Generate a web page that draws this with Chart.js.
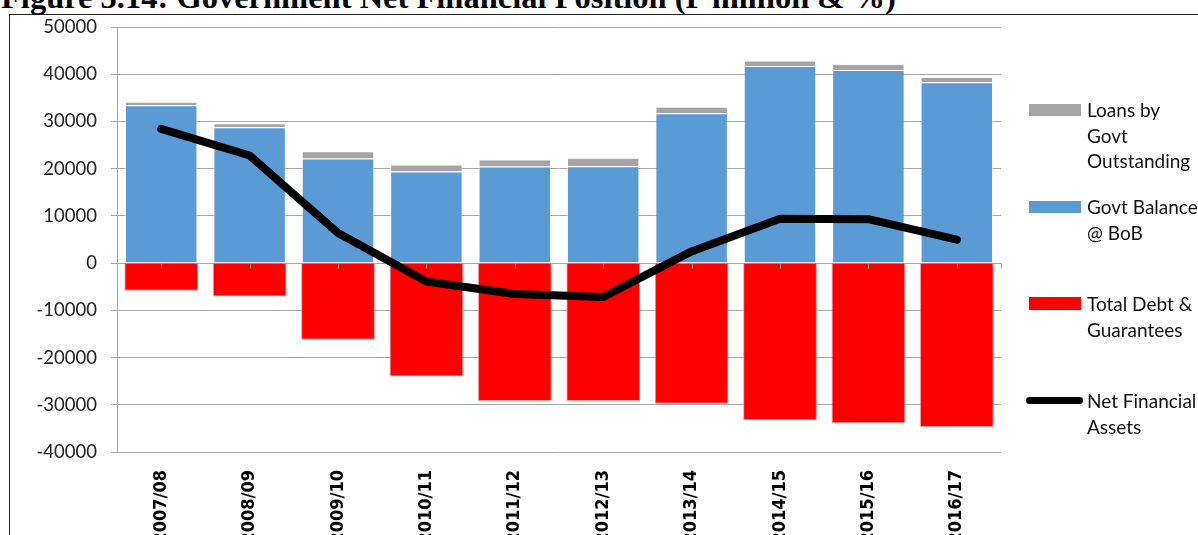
<!DOCTYPE html>
<html>
<head>
<meta charset="utf-8">
<script src="https://cdn.jsdelivr.net/npm/chart.js@4/dist/chart.umd.min.js"></script>
<style>
  html, body { margin: 0; padding: 0; background: #fff; width: 1198px; height: 535px; overflow: hidden; }
  #title { position: absolute; left: 1px; top: -19px; font: bold 32.5px "Liberation Serif", "Times New Roman", serif; line-height: 32px; white-space: nowrap; color: #000; }
  #frame { position: absolute; left: 9px; top: 14px; width: 1400px; height: 700px; border: 1px solid #262626; box-sizing: border-box; }
  #c { position: absolute; left: 0; top: 0; }
  .lg-sw { position: absolute; }
  .lg-tx { position: absolute; left: 1087px; font: 19px Lato, "Open Sans", sans-serif; line-height: 25.5px; color: #111; white-space: nowrap; }
</style>
</head>
<body>
<div id="frame"></div>
<div id="title">Figure 3.14: Government Net Financial Position (P million &amp; %)</div>
<canvas id="c" width="1198" height="535"></canvas>
<div id="legend"></div>
<script>
// ---- data ----
const categories = ['2007/08','2008/09','2009/10','2010/11','2011/12','2012/13','2013/14','2014/15','2015/16','2016/17'];
const govtBalance = [33450, 28780, 22140, 19380, 20450, 20510, 31750, 41720, 40870, 38320];
const loansOutstanding = [720, 850, 1550, 1490, 1480, 1780, 1360, 1210, 1270, 1070];
const totalDebt = [-5850, -7060, -16250, -24030, -29180, -29200, -29760, -33280, -33910, -34700];
const netFinancial = [28440, 22780, 6380, -3880, -6550, -7190, 2480, 9420, 9310, 4960];
const yTicks = [50000, 40000, 30000, 20000, 10000, 0, -10000, -20000, -30000, -40000];
const legendLabels = [['Loans by', 'Govt', 'Outstanding'], ['Govt Balance', '@ BoB'], ['Total Debt &', 'Guarantees'], ['Net Financial', 'Assets']];

const COL_GRAY = '#a5a5a5', COL_BLUE = '#5b9bd5', COL_RED = '#ff0000', GRID = '#a6a6a6';

// small tick marks on the zero line at category centres
const zeroTicks = {
  id: 'zeroTicks',
  afterDatasetsDraw(chart) {
    const { ctx, scales: { x, y } } = chart;
    const y0 = Math.round(y.getPixelForValue(0)) + 0.5;
    ctx.save();
    ctx.strokeStyle = GRID; ctx.lineWidth = 1;
    ctx.beginPath();
    categories.forEach((c, i) => {
      const px = Math.round(x.getPixelForValue(i)) + 0.5;
      ctx.moveTo(px, y0); ctx.lineTo(px, y0 + 5);
    });
    ctx.moveTo(x.right + 0.5, y0); ctx.lineTo(x.right + 0.5, y0 + 5);
    ctx.stroke();
    ctx.restore();
  }
};

new Chart(document.getElementById('c'), {
  data: {
    labels: categories,
    datasets: [
      { type: 'bar', label: 'Govt Balance @ BoB', data: govtBalance, backgroundColor: COL_BLUE, borderColor: 'rgba(255,255,255,0.55)', borderWidth: 1, barPercentage: 0.82, categoryPercentage: 1, order: 1 },
      { type: 'bar', label: 'Loans by Govt Outstanding', data: loansOutstanding, backgroundColor: COL_GRAY, borderColor: 'rgba(255,255,255,0.55)', borderWidth: 1, barPercentage: 0.82, categoryPercentage: 1, order: 1 },
      { type: 'bar', label: 'Total Debt & Guarantees', data: totalDebt, backgroundColor: COL_RED, borderColor: 'rgba(255,140,140,0.8)', borderWidth: 1, barPercentage: 0.835, categoryPercentage: 1, order: 1 },
      { type: 'line', label: 'Net Financial Assets', data: netFinancial, borderColor: '#000', backgroundColor: '#000', borderWidth: 8, pointRadius: 0, tension: 0, borderCapStyle: 'round', borderJoinStyle: 'round', stack: 'net', order: 0 }
    ]
  },
  options: {
    responsive: false,
    animation: false,
    devicePixelRatio: 1,
    layout: { padding: { top: 27, right: 197, left: 0, bottom: 0 } },
    plugins: { legend: { display: false }, tooltip: { enabled: false } },
    scales: {
      x: {
        stacked: true,
        grid: { display: false },
        border: { display: false },
        ticks: {
          autoSkip: false, minRotation: 90, maxRotation: 90, padding: 10,
          color: '#000',
          font: { family: '"Liberation Sans Narrow", "DejaVu Sans Condensed", "Liberation Sans", sans-serif', size: 18, weight: 'bold' }
        },
        afterFit(s) { s.height = 83; }
      },
      y: {
        stacked: true,
        min: -40000, max: 50000,
        afterBuildTicks(s) { s.ticks = yTicks.map(v => ({ value: v })); },
        grid: { color: GRID, lineWidth: 1, tickLength: 6, drawTicks: true },
        border: { color: GRID, width: 1 },
        ticks: { padding: 14, color: '#222', font: { family: 'Lato, "Open Sans", sans-serif', size: 18.5 }, callback: v => String(v) },
        afterFit(s) { s.width = 117; }
      }
    }
  },
  plugins: [zeroTicks]
});

// ---- legend (HTML, positioned to match) ----
const lg = document.getElementById('legend');
const swatches = [
  { color: COL_GRAY, top: 104, h: 12, line: false, textTop: 97 },
  { color: COL_BLUE, top: 201, h: 12, line: false, textTop: 194 },
  { color: COL_RED,  top: 297, h: 13, line: false, textTop: 291 },
  { color: '#000',   top: 397, h: 7,  line: true,  textTop: 388 }
];
swatches.forEach((s, i) => {
  const sw = document.createElement('div');
  sw.className = 'lg-sw';
  sw.style.background = s.color;
  sw.style.top = s.top + 'px';
  sw.style.height = s.h + 'px';
  if (s.line) { sw.style.left = '1026px'; sw.style.width = '57px'; sw.style.borderRadius = '4px'; }
  else { sw.style.left = '1029px'; sw.style.width = '52px'; }
  lg.appendChild(sw);
  const tx = document.createElement('div');
  tx.className = 'lg-tx';
  tx.style.top = s.textTop + 'px';
  legendLabels[i].forEach((line, k) => {
    if (k) tx.appendChild(document.createElement('br'));
    tx.appendChild(document.createTextNode(line));
  });
  lg.appendChild(tx);
});
</script>
</body>
</html>
